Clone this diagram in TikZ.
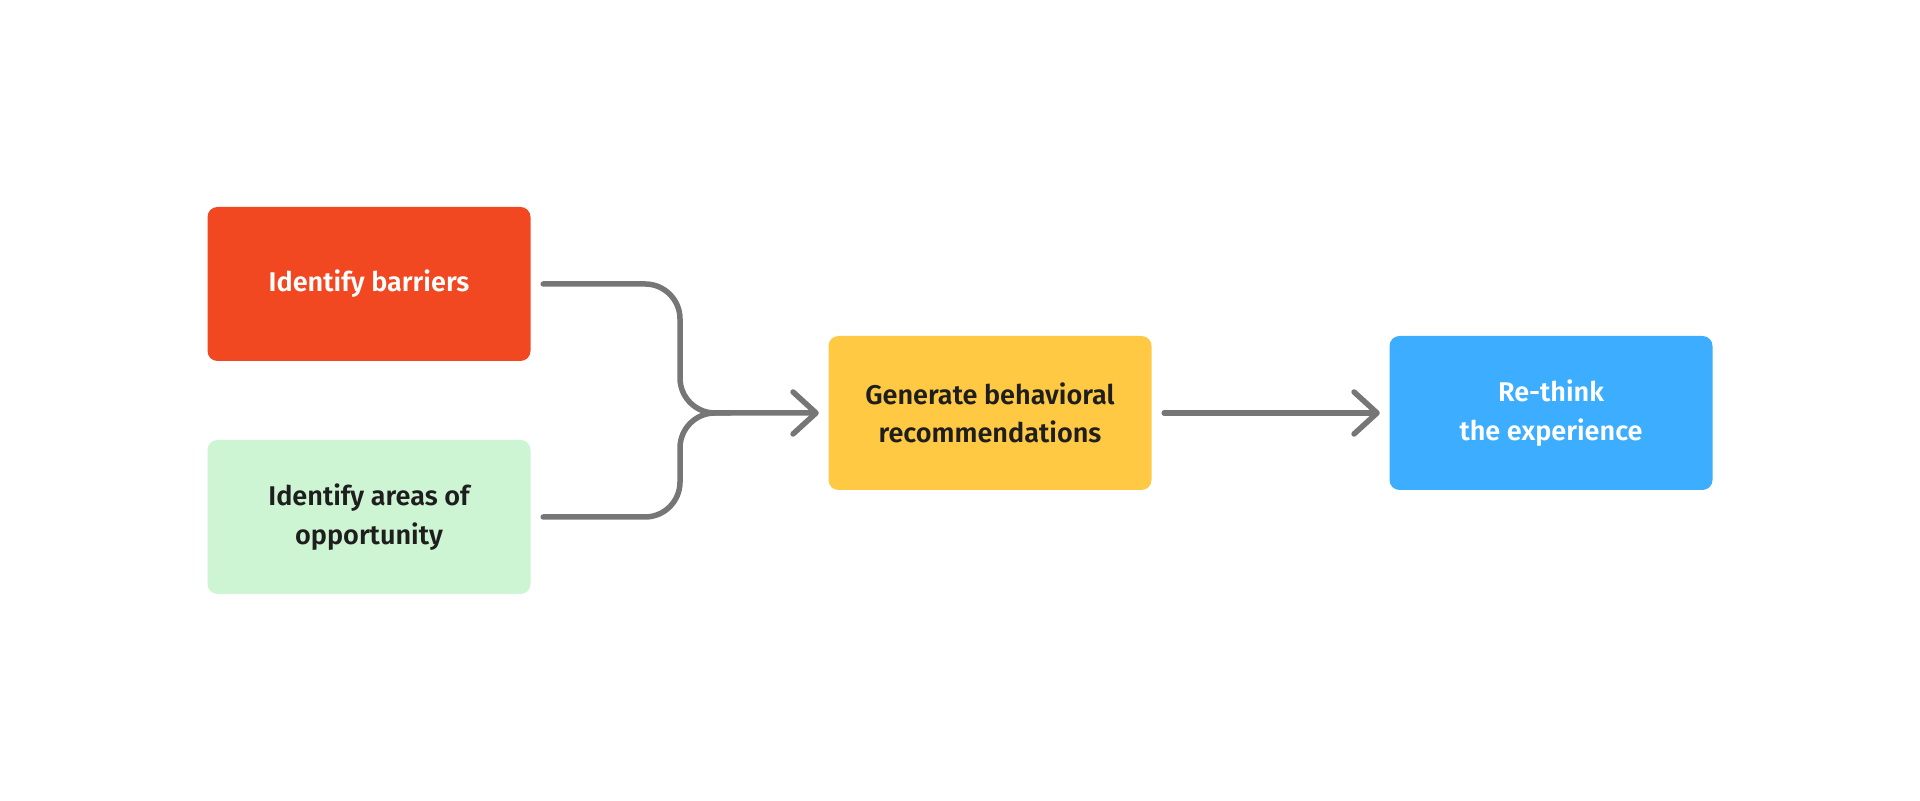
\documentclass[tikz,border=0pt]{standalone}
\usepackage{fontspec}
\setmainfont{Fira Sans}[BoldFont={Fira Sans SemiBold}]
\usepackage{tikz}
\usetikzlibrary{arrows.meta,positioning}
\definecolor{barrred}{HTML}{F24822}
\definecolor{oppgreen}{HTML}{CDF4D3}
\definecolor{genyellow}{HTML}{FFC943}
\definecolor{rethinkblue}{HTML}{3DADFF}
\definecolor{linkgray}{HTML}{767676}
\definecolor{darktext}{HTML}{1E1E1E}

\begin{document}
\begin{tikzpicture}[
box/.style={rectangle,rounded corners=1mm,minimum width=3.23cm,minimum height=1.54cm,
  align=center,font=\fontsize{7.7}{11}\selectfont\bfseries},
link/.style={draw=linkgray,line width=0.55mm,line cap=round,line join=round},
arc/.style={link,-{Straight Barb[round,length=2.3mm,width=4.2mm]}}]
\useasboundingbox (0,0) rectangle (19.2,8.01);
\node[box,fill=barrred,text=white] (barr) at (3.69,5.17) {Identify barriers};
\node[box,fill=oppgreen,text=darktext] (opp) at (3.69,2.84) {Identify areas of\\opportunity};
\node[box,fill=genyellow,text=darktext] (gen) at (9.90,3.88) {Generate behavioral\\recommendations};
\node[box,fill=rethinkblue,text=white] (rethink) at (15.51,3.88) {Re-think\\the experience};
\coordinate (join) at (6.80,3.88);
% merge of the two inputs
\draw[arc,rounded corners=3.5mm] ([xshift=1.2mm]barr.east) -| (join) -- ([xshift=-0.9mm]gen.west);
\draw[link,rounded corners=3.5mm] ([xshift=1.2mm]opp.east) -| (join) -- ++(0.5,0);
\draw[arc] ([xshift=1.2mm]gen.east) -- ([xshift=-0.9mm]rethink.west);
\end{tikzpicture}
\end{document}
